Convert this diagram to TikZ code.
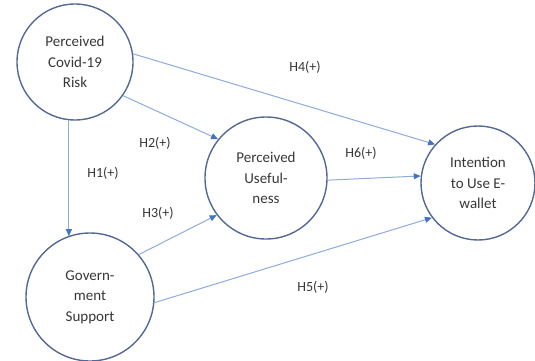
\documentclass[tikz,border=0pt]{standalone}
\usepackage{fontspec}
\setmainfont{Carlito}
\usepackage{tikz}
\usetikzlibrary{arrows.meta}

\definecolor{ringblue}{RGB}{84,104,150}
\definecolor{lineblue}{RGB}{143,170,220}
\definecolor{tipblue}{RGB}{68,114,196}
\definecolor{textgray}{RGB}{55,55,55}

\begin{document}
\begin{tikzpicture}[x=1pt,y=-1pt,
    construct/.style={circle,draw=ringblue,line width=1.4pt,align=center,
      text=textgray,font=\fontsize{15}{20.5}\selectfont,inner sep=0pt},
    link/.style={draw=lineblue,line width=1pt,
      -{Triangle[length=7pt,width=6pt,color=tipblue]}},
    hyp/.style={text=textgray,font=\fontsize{14}{16}\selectfont}]

    \useasboundingbox (0,0) rectangle (535,361);

    % Constructs
    \node[construct,minimum size=116pt] (risk) at (75,62) {Perceived\\Covid-19\\Risk};
    \node[construct,minimum size=122pt] (useful) at (266,178) {Perceived\\Useful-\\ness};
    \node[construct,minimum size=114pt] (intent) at (478,183) {Intention\\to Use E-\\wallet};
    \node[construct,minimum size=128pt] (gov) at (90,297) {Govern-\\ment\\Support};

    % Paths
    \draw[link] (risk.-96) -- (risk.-96 |- gov.110);
    \draw[link] (risk.-35) -- (useful.141);
    \draw[link] (risk.8) -- (intent.138);
    \draw[link] (gov.41) -- (useful.-143);
    \draw[link] (gov.-5) -- (intent.-143);
    \draw[link] (useful.-2) -- (intent.173);

    % Hypothesis labels
    \node[hyp] (h1) at (103,173) {H1(+)};
    \node[hyp] (h2) at (155,143) {H2(+)};
    \node[hyp] (h3) at (158,213) {H3(+)};
    \node[hyp] (h4) at (305,67) {H4(+)};
    \node[hyp] (h5) at (313,287) {H5(+)};
    \node[hyp] (h6) at (361,153) {H6(+)};

\end{tikzpicture}
\end{document}
